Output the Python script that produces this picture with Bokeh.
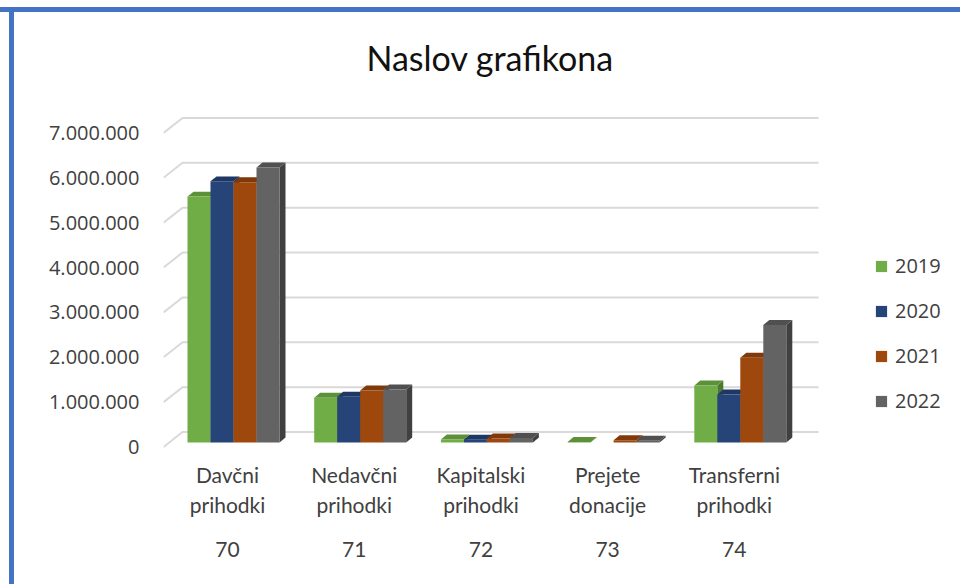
from bokeh.plotting import figure
from bokeh.models import (Range1d, FixedTicker, LinearAxis, Legend, LegendItem,
                          ColumnDataSource, Div)
from bokeh.layouts import column, row
from bokeh.embed import file_html
from bokeh.resources import INLINE

# ---------------- data ----------------
categories = ["Davčni\nprihodki", "Nedavčni\nprihodki", "Kapitalski\nprihodki",
              "Prejete\ndonacije", "Transferni\nprihodki"]
codes = ["70", "71", "72", "73", "74"]
years = ["2019", "2020", "2021", "2022"]
v2019 = [5480000, 1000000, 70000, 10000, 1270000]
v2020 = [5820000, 1020000, 60000, 0, 1070000]
v2021 = [5800000, 1160000, 90000, 50000, 1890000]
v2022 = [6130000, 1180000, 100000, 40000, 2620000]
y_ticks = [0, 1000000, 2000000, 3000000, 4000000, 5000000, 6000000, 7000000]
y_tick_labels = ["0", "1.000.000", "2.000.000", "3.000.000", "4.000.000",
                 "5.000.000", "6.000.000", "7.000.000"]
series = [v2019, v2020, v2021, v2022]

# ---------------- style ----------------
front_colors = ["#70AD47", "#264478", "#9E480E", "#636363"]
top_colors = ["#5C9139", "#1E3764", "#80390A", "#505050"]
side_colors = ["#4C7A2F", "#182C50", "#6A2F08", "#404040"]
grid_color = "#D9D9D9"
text_color = "#404040"
frame_blue = "#4472C4"

TOP_PAD, LEFT_PAD = 12, 14
W, H = 960 - LEFT_PAD, 584 - TOP_PAD
ML, MR, MT, MB = 149, 0, 86, 133
FW, FH = W - ML - MR, H - MT - MB
GROUP_PX = 126.7          # px between category centres
PX_PER_UNIT_Y = 45e-6     # px per value unit
X0 = -64 / GROUP_PX
X1 = X0 + FW / GROUP_PX
Y0 = -100000
Y1 = Y0 + FH / PX_PER_UNIT_Y

def px_x(px):
    return px / GROUP_PX

def px_y(px):
    return px / PX_PER_UNIT_Y

p = figure(width=W, height=H, output_backend="svg", toolbar_location=None,
           x_range=Range1d(X0, X1), y_range=Range1d(Y0, Y1),
           min_border_left=ML, min_border_right=MR, min_border_top=MT,
           min_border_bottom=MB, title="Naslov grafikona")
p.margin = 0
p.outline_line_color = None
p.background_fill_color = "white"
p.border_fill_color = "white"
p.xgrid.visible = False
p.ygrid.visible = False

p.title.text_font = "Lato"
p.title.text_font_size = "34px"
p.title.text_font_style = "normal"
p.title.text_color = "#111111"
p.title.align = "left"
p.title.offset = 203
p.title.standoff = 44

# y axis
yax = p.yaxis[0]
yax.ticker = FixedTicker(ticks=y_ticks)
yax.major_label_overrides = {t: l for t, l in zip(y_ticks, y_tick_labels)}
yax.major_label_text_font = "Open Sans"
yax.major_label_text_font_size = "20px"
yax.major_label_text_color = text_color
yax.axis_line_color = None
yax.major_tick_line_color = None
yax.minor_tick_line_color = None
yax.major_tick_out = 0
yax.major_tick_in = 0
yax.major_label_standoff = 24

# x axes
cat_pos = list(range(len(categories)))
xax = p.xaxis[0]
xax.ticker = FixedTicker(ticks=cat_pos)
xax.major_label_overrides = {i: c for i, c in zip(cat_pos, categories)}
xax2 = LinearAxis(ticker=FixedTicker(ticks=cat_pos),
                  major_label_overrides={i: c for i, c in zip(cat_pos, codes)})
p.add_layout(xax2, "below")
for ax in (xax, xax2):
    ax.major_label_text_font = "Lato"
    ax.major_label_text_font_size = "21px"
    ax.major_label_text_color = text_color
    ax.axis_line_color = None
    ax.major_tick_line_color = None
    ax.minor_tick_line_color = None
    ax.major_tick_out = 0
    ax.major_tick_in = 0
xax.major_label_standoff = 10
xax2.major_label_standoff = 22

# perspective gridlines
gxs, gys = [], []
for t in y_ticks:
    gxs.append([X0, X0 + px_x(19), X0 + px_x(655)])
    gys.append([t, t + px_y(15), t + px_y(15)])
p.multi_line(gxs, gys, line_color=grid_color, line_width=2)

# 3D bars
BW = px_x(23)
SHIFT = px_x(6)
DX, DY = px_x(6), px_y(5)
BASE = px_y(4.5)
items = []
for k, (yr, vals) in enumerate(zip(years, series)):
    lefts, rights, tops, bottoms = [], [], [], []
    sxs, sys_, txs, tys = [], [], [], []
    for i, v in enumerate(vals):
        if v <= 0:
            continue
        l = i + SHIFT + (k - 2) * BW
        r = l + BW
        b = BASE
        t = BASE + v
        lefts.append(l); rights.append(r); tops.append(t); bottoms.append(b)
        sxs.append([r, r + DX, r + DX, r]); sys_.append([b, b + DY, t + DY, t])
        txs.append([l, r, r + DX, l + DX]); tys.append([t, t, t + DY, t + DY])
    p.patches(sxs, sys_, fill_color=side_colors[k], line_color=None)
    p.patches(txs, tys, fill_color=top_colors[k], line_color=None)
    src = ColumnDataSource(dict(left=lefts, right=rights, top=tops, bottom=bottoms))
    rq = p.quad(left="left", right="right", top="top", bottom="bottom", source=src,
                fill_color=front_colors[k], line_color=None)
    items.append(LegendItem(label=yr, renderers=[rq]))

legend = Legend(items=items, location=(711, 37))
legend.glyph_width = 14
legend.glyph_height = 14
legend.label_text_font = "Open Sans"
legend.label_text_font_size = "20px"
legend.label_text_color = text_color
legend.label_standoff = 7
legend.label_height = 20
legend.spacing = 18
legend.padding = 0
legend.margin = 0
legend.border_line_color = None
legend.background_fill_alpha = 0
p.add_layout(legend)

# chart-area border (top and left edges of the chart box)
top_bar = Div(text="", width=960, height=TOP_PAD, margin=0,
              styles={"background": "linear-gradient(to bottom, #ffffff 0px, #ffffff 7px, "
                                     + frame_blue + " 7px, " + frame_blue + " 12px)"})
left_bar = Div(text="", width=LEFT_PAD, height=H, margin=0,
               styles={"background": "linear-gradient(to right, #ffffff 0px, #ffffff 9px, "
                                     + frame_blue + " 9px, " + frame_blue + " 14px)"})
page = column(top_bar, row(left_bar, p, spacing=0), spacing=0, margin=0)

open("out.html", "w").write(file_html(page, INLINE))
